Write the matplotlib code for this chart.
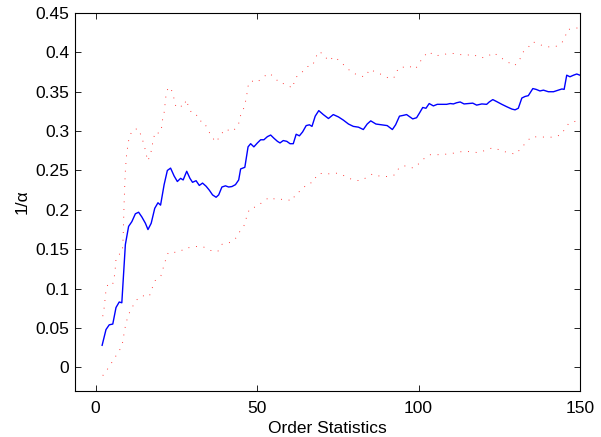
import matplotlib
matplotlib.use('Agg')
import matplotlib.pyplot as plt

# blue curve (estimate), vertices
est_x = [2, 3.2, 4.2, 5.3, 6.3, 7.3, 8.1, 9.2, 10.2, 11.2, 12.3, 13.3, 14.3, 15.4,
         16.2, 17.2, 18.3, 19.3, 20.1, 21.2, 22.2, 23.2, 24.3, 25.3, 26.3, 27.1,
         28.2, 29.2, 30.0, 31.1, 32.1, 33.1, 34.2, 35.2, 36.2, 37.3, 38.1, 39.1,
         40.2, 41.2, 42.2, 43.3, 44.3, 44.9, 46.2, 47.2, 48.0, 49.0, 50.1, 51.1,
         52.1, 53.2, 54.2, 55.2, 56.3, 57.1, 58.1, 59.2, 60.2, 61.2, 62.1, 63.1,
         64.1, 65.2, 66.2, 67.0, 68.0, 69.1, 70.5, 72.1, 73.6, 75.2, 76.7, 78.3,
         79.8, 81.4, 82.9, 84.1, 85.2, 86.8, 88.6, 90.3, 91.9, 92.9, 94.1, 95.3,
         96.3, 98.2, 99.4, 100.3, 101.3, 102.3, 103.3, 104.6, 105.8, 107.2, 108.7,
         109.8, 110.8, 111.8, 112.9, 114.1, 115.4, 116.8, 118.0, 119.6, 121.1,
         121.9, 123.0, 124.2, 125.8, 127.3, 128.9, 129.9, 130.9, 132.0, 133.0,
         134.0, 135.4, 136.4, 137.6, 138.7, 140.2, 141.8, 143.3, 144.4, 145.1,
         145.9, 146.9, 148.0, 149.0, 150.0]
est_y = [0.028, 0.048, 0.054, 0.055, 0.076, 0.083, 0.082, 0.156, 0.179, 0.185,
         0.195, 0.197, 0.191, 0.183, 0.175, 0.183, 0.202, 0.209, 0.206, 0.232,
         0.250, 0.253, 0.243, 0.236, 0.240, 0.238, 0.249, 0.240, 0.235, 0.237,
         0.231, 0.234, 0.230, 0.225, 0.219, 0.216, 0.219, 0.229, 0.2305, 0.229,
         0.2296, 0.232, 0.238, 0.252, 0.254, 0.280, 0.284, 0.280, 0.285, 0.289,
         0.289, 0.293, 0.295, 0.291, 0.287, 0.285, 0.288, 0.287, 0.284, 0.284,
         0.296, 0.294, 0.299, 0.307, 0.308, 0.306, 0.319, 0.326, 0.321, 0.316,
         0.321, 0.318, 0.314, 0.309, 0.306, 0.305, 0.302, 0.309, 0.313, 0.309,
         0.308, 0.307, 0.302, 0.308, 0.319, 0.320, 0.321, 0.3155, 0.317, 0.323,
         0.330, 0.329, 0.335, 0.332, 0.334, 0.334, 0.334, 0.335, 0.3345, 0.336,
         0.337, 0.3345, 0.335, 0.3355, 0.333, 0.3345, 0.334, 0.337, 0.340,
         0.3375, 0.334, 0.331, 0.328, 0.327, 0.329, 0.342, 0.344, 0.345, 0.354,
         0.353, 0.351, 0.352, 0.350, 0.350, 0.352, 0.3535, 0.353, 0.371, 0.369,
         0.371, 0.3725, 0.371]

# upper bound (red dotted)
up_x = [2.2, 2.6, 2.9, 3.2, 3.9, 5.3, 5.8, 6.1, 6.3, 7.0, 8.0, 8.4, 8.6, 8.8,
        9.0, 9.2, 9.4, 9.6, 10.0, 10.4, 11.6, 13.2, 14.2, 15.0, 15.6, 16.1, 16.8,
        17.4, 17.8, 18.5, 19.7, 20.4, 20.7, 21.2, 21.8, 22.5, 23.5, 24.3, 24.9,
        26.1, 27.4, 28.0, 28.7, 29.7, 31.1, 32.1, 33.5, 34.6, 35.9, 37.3, 38.7,
        40.1, 42.4, 44.2, 44.7, 45.7, 46.3, 46.8, 47.2, 48.1, 49.9, 51.7, 53.6,
        55.3, 56.9, 58.7, 61.0, 61.7, 63.1, 64.1, 65.6, 67.2, 67.9, 69.0, 70.5,
        72.1, 73.9, 76.0, 77.8, 79.6, 81.9, 83.4, 85.0, 86.7, 89.1, 91.2, 92.7,
        93.7, 95.1, 96.8, 99.0, 100.3, 101.6, 103.1, 105.1, 107.5, 109.8, 112.0,
        114.4, 116.8, 119.1, 121.1, 123.2, 125.2, 127.5, 129.7, 131.2, 132.3,
        134.0, 135.4, 137.4, 139.7, 142.3, 144.4, 145.6, 145.9, 147.5, 149.7]
up_y = [0.065, 0.075, 0.086, 0.098, 0.107, 0.106, 0.116, 0.127, 0.1375, 0.143,
        0.145, 0.1535, 0.177, 0.208, 0.230, 0.250, 0.261, 0.272, 0.282, 0.293,
        0.302, 0.303, 0.293, 0.2825, 0.272, 0.262, 0.268, 0.278, 0.289, 0.299,
        0.297, 0.304, 0.314, 0.3235, 0.346, 0.356, 0.352, 0.341, 0.330, 0.332,
        0.331, 0.340, 0.332, 0.323, 0.3215, 0.313, 0.312, 0.303, 0.293, 0.286,
        0.295, 0.3025, 0.2995, 0.3075, 0.318, 0.327, 0.335, 0.346, 0.357, 0.364,
        0.3616, 0.368, 0.3735, 0.369, 0.361, 0.360, 0.3545, 0.366, 0.3735,
        0.3755, 0.382, 0.383, 0.391, 0.401, 0.398, 0.389, 0.3946, 0.3875, 0.380,
        0.374, 0.370, 0.369, 0.3786, 0.3748, 0.371, 0.366, 0.369, 0.380, 0.381,
        0.383, 0.3786, 0.387, 0.3946, 0.401, 0.3955, 0.397, 0.399, 0.398, 0.396,
        0.3976, 0.393, 0.394, 0.3997, 0.394, 0.388, 0.383, 0.3895, 0.400, 0.4065,
        0.4135, 0.410, 0.407, 0.407, 0.412, 0.422, 0.428, 0.4306, 0.431]

# lower bound (red dotted)
lo_x = [2.2, 3.7, 5.1, 6.5, 7.8, 8.6, 8.8, 9.4, 10.0, 11.2, 12.5, 14.3, 16.6,
        17.5, 18.4, 20.2, 20.9, 21.7, 22.5, 24.3, 26.1, 27.9, 29.4, 31.3, 33.1,
        35.6, 37.8, 39.2, 41.6, 43.7, 44.9, 46.3, 46.8, 47.8, 49.9, 51.7, 53.8,
        56.1, 58.4, 60.9, 62.0, 63.8, 65.4, 67.4, 68.6, 70.3, 72.4, 74.8, 77.2,
        79.6, 81.9, 83.4, 85.8, 88.3, 90.6, 92.7, 94.0, 96.0, 98.4, 100.2, 101.7,
        103.5, 105.8, 108.4, 110.8, 113.4, 115.7, 118.2, 120.6, 123.0, 125.2,
        127.5, 130.1, 131.7, 133.3, 134.9, 137.1, 139.7, 142.1, 144.4, 145.4,
        146.6, 149.0]
lo_y = [-0.0105, -0.002, 0.0068, 0.016, 0.0246, 0.035, 0.045, 0.0554, 0.0656,
        0.0754, 0.085, 0.091, 0.090, 0.1007, 0.110, 0.1163, 0.126, 0.137, 0.146,
        0.146, 0.147, 0.152, 0.152, 0.1535, 0.1535, 0.1485, 0.147, 0.1565,
        0.1586, 0.165, 0.1745, 0.182, 0.193, 0.202, 0.204, 0.210, 0.216, 0.2128,
        0.2137, 0.2115, 0.221, 0.2246, 0.233, 0.235, 0.245, 0.2466, 0.2457,
        0.2466, 0.243, 0.238, 0.237, 0.240, 0.2457, 0.2423, 0.2423, 0.2445,
        0.2537, 0.256, 0.253, 0.259, 0.265, 0.270, 0.270, 0.2707, 0.272, 0.274,
        0.274, 0.2728, 0.2753, 0.279, 0.276, 0.2728, 0.2707, 0.278, 0.2855,
        0.2927, 0.2927, 0.2923, 0.2923, 0.296, 0.304, 0.310, 0.313]

x_ticks = [0, 50, 100, 150]
y_ticks = [0, 0.05, 0.1, 0.15, 0.2, 0.25, 0.3, 0.35, 0.4, 0.45]
y_labels = ['0', '0.05', '0.1', '0.15', '0.2', '0.25', '0.3', '0.35', '0.4', '0.45']

plt.rcParams['font.family'] = ['Liberation Sans', 'DejaVu Sans']

fig = plt.figure(figsize=(6.01, 4.37), dpi=100)
ax = fig.add_axes([0.1248, 0.1053, 0.8402, 0.8650])

ax.plot(up_x, up_y, color='#ff2020', lw=0.65, linestyle=(0, (1, 7.5)))
ax.plot(lo_x, lo_y, color='#ff2020', lw=0.65, linestyle=(0, (1, 7.5)))
ax.plot(est_x, est_y, color='#0000ff', lw=1.0)

ax.set_xlim(-6.4, 150)
ax.set_ylim(-0.03, 0.45)
ax.set_xticks(x_ticks)
ax.set_yticks(y_ticks)
ax.set_yticklabels(y_labels)
ax.tick_params(direction='in', length=4, width=0.6, top=True, right=True,
               labelsize=12.5)
ax.tick_params(axis='x', pad=7)
ax.tick_params(axis='y', pad=4)
for sp in ax.spines.values():
    sp.set_linewidth(0.8)

ax.set_xlabel('Order Statistics', fontsize=12.5, labelpad=3.5)
ax.set_ylabel('1/\u03b1', fontsize=12.5, labelpad=4)

fig.savefig('out.png', dpi=100)
